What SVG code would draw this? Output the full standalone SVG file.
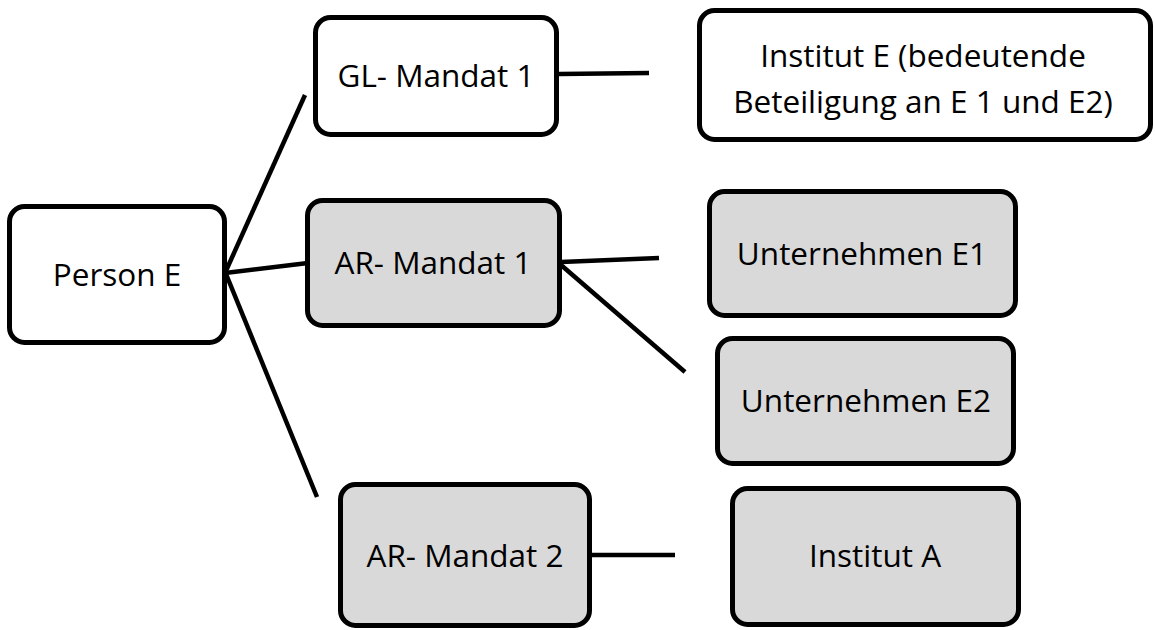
<svg xmlns="http://www.w3.org/2000/svg" width="1155" height="630" viewBox="0 0 1155 630">
  <style>
    .box { stroke: #000; stroke-width: 5; }
    .white { fill: #ffffff; }
    .grey { fill: #d9d9d9; }
    .lbl { font-family: "Open Sans", "Liberation Sans", sans-serif; font-size: 31.5px; fill: #000; text-anchor: middle; }
    .conn line { stroke: #000; stroke-width: 4.5; }
  </style>
  <rect width="1155" height="630" fill="#ffffff"/>
  <g id="connectors" class="conn">
    <line x1="225" y1="273" x2="305" y2="95"/>
    <line x1="225" y1="273" x2="308" y2="263"/>
    <line x1="226" y1="274" x2="317" y2="497"/>
    <line x1="559" y1="74" x2="649" y2="73"/>
    <line x1="561" y1="262" x2="659" y2="258"/>
    <line x1="561" y1="265" x2="685" y2="372"/>
    <line x1="590" y1="555" x2="675" y2="555"/>
  </g>
  <g id="person-e">
    <rect class="box white" x="9.5" y="206.5" width="215" height="136" rx="15"/>
    <text class="lbl" x="117" y="286">Person E</text>
  </g>
  <g id="gl-mandat-1">
    <rect class="box white" x="315.5" y="17.5" width="241" height="117" rx="15"/>
    <text class="lbl" x="436" y="87">GL- Mandat 1</text>
  </g>
  <g id="institut-e">
    <rect class="box white" x="699.5" y="10.5" width="451" height="129" rx="15"/>
    <text class="lbl" x="923" y="67">Institut E (bedeutende</text>
    <text class="lbl" x="923" y="113">Beteiligung an E 1 und E2)</text>
  </g>
  <g id="ar-mandat-1">
    <rect class="box grey" x="307.5" y="200.5" width="252" height="125" rx="15"/>
    <text class="lbl" x="433" y="274">AR- Mandat 1</text>
  </g>
  <g id="unternehmen-e1">
    <rect class="box grey" x="709.5" y="191.5" width="306" height="124" rx="15"/>
    <text class="lbl" x="862" y="265">Unternehmen E1</text>
  </g>
  <g id="unternehmen-e2">
    <rect class="box grey" x="717.5" y="338.5" width="296" height="125" rx="15"/>
    <text class="lbl" x="866" y="412">Unternehmen E2</text>
  </g>
  <g id="ar-mandat-2">
    <rect class="box grey" x="340.5" y="484.5" width="249" height="141" rx="15"/>
    <text class="lbl" x="465" y="567">AR- Mandat 2</text>
  </g>
  <g id="institut-a">
    <rect class="box grey" x="732.5" y="488.5" width="286" height="136" rx="15"/>
    <text class="lbl" x="875" y="567">Institut A</text>
  </g>
</svg>
